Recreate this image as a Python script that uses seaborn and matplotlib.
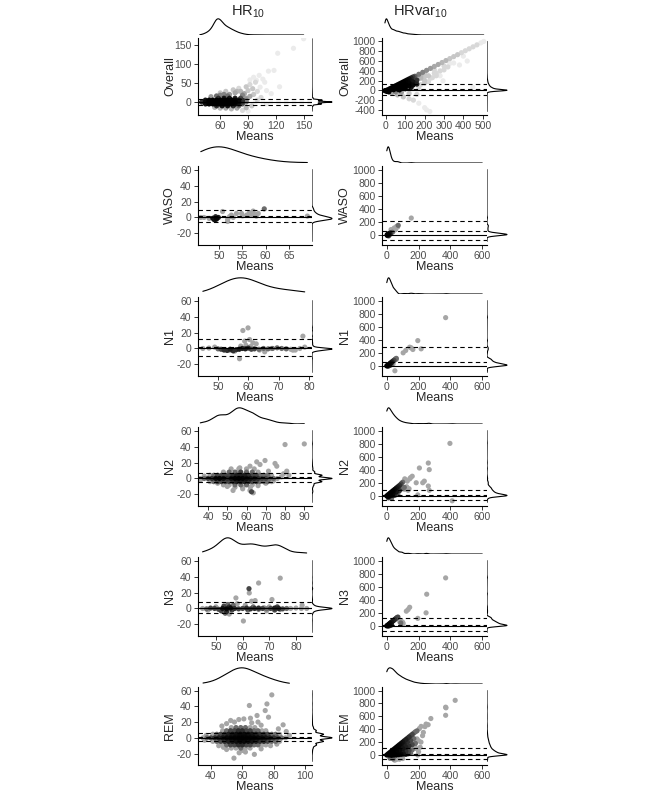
import numpy as np
import matplotlib
matplotlib.use('Agg')
import matplotlib.pyplot as plt
import seaborn as sns

sns.set_style('white')
plt.rcParams['font.family'] = ['Liberation Sans', 'DejaVu Sans']
plt.rcParams['mathtext.fontset'] = 'custom'
plt.rcParams['mathtext.rm'] = 'Liberation Sans'
plt.rcParams['axes.unicode_minus'] = False

# ---------------- data (means, differences, number of epochs per point) ----------------
hr_overall_x = [40, 44, 48, 52, 56, 60, 64, 68, 72, 76, 80, 84, 88,
                44, 48, 52, 56, 60, 64, 68, 72, 76, 80, 84,
                44, 48, 52, 56, 60, 64, 68, 72, 76, 80, 84, 88,
                56, 62, 68, 74, 80,
                58, 64, 70, 76, 82, 88,
                56, 60, 64, 68, 60, 66, 74, 78, 50, 60, 66, 78, 54,
                70, 76, 82, 86, 90, 80, 88, 92, 95, 98, 84, 92, 96, 100, 88, 94, 100, 104, 72, 84, 90,
                92, 99, 103, 108, 112, 118, 122, 139, 150, 110, 115, 106, 102, 96, 38, 110, 124]
hr_overall_y = [0, 0, 0, 0, 0, 0, 0, 0, 0, 0, 0, 0, 0,
                -5, -5, -5, -5, -5, -5, -5, -5, -5, -5, -5,
                5, 5, 5, 5, 5, 5, 5, 5, 5, 5, 5, 5,
                -10, -10, -10, -10, -10,
                10, 10, 10, 10, 10, 10,
                16, 18, 20, 16, 24, 28, 32, 28, 14, -16, -16, -16, -14,
                20, 24, 28, 22, 30, 36, 40, 46, 35, 52, 18, 15, 20, 28, -15, -10, 5, 12, -18, -22, -24,
                58, 57, 39, 52, 81, 83, 128, 141, 166, 30, 22, 60, 70, 65, -4, -5, 40]
hr_overall_n = [20, 40, 80, 200, 500, 450, 250, 180, 130, 80, 40, 20, 8,
                30, 60, 120, 200, 180, 120, 90, 70, 45, 25, 12,
                30, 60, 120, 200, 180, 130, 100, 80, 55, 35, 20, 8,
                20, 30, 30, 20, 10,
                20, 30, 30, 25, 15, 6,
                10, 8, 8, 10, 3, 3, 3, 4, 6, 4, 5, 5, 4,
                6, 5, 4, 5, 3, 2, 3, 2, 3, 2, 8, 5, 3, 2, 4, 3, 2, 2, 4, 2, 1,
                1, 1, 1, 1, 1, 1, 1, 1, 1, 1, 1, 1, 1, 1, 1, 1, 1]

hrv_overall_x = [0, 10, 20, 30, 40, 50, 60, 70, 80, 90, 100, 110, 120, 130, 140, 150,
                 20, 40, 60, 80, 100, 120, 140, 160,
                 40, 60, 80, 100, 120, 140, 160,
                 100, 130, 70, -5, 5, 15,
                 170, 190, 210, 230, 250, 270, 290, 310, 330, 350, 370, 390, 410, 430, 450, 470, 490, 505,
                 180, 200, 220, 250, 280, 300, 200, 240, 260, 295, 320, 350, 400, 449, 380, 420, 180, 220, 170,
                 200, 230, 260, 280, 300, 330, 250, 200, 160, 140, 180,
                 30, 60, 90, 120, 142, 170, 200, 210, 227, 80, 120, 160, 50]
hrv_overall_y = [0, 15, 35, 55, 75, 95, 115, 135, 155, 175, 195, 215, 235, 255, 275, 290,
                 5, 15, 30, 50, 70, 90, 110, 130,
                 40, 60, 90, 120, 150, 180, 210,
                 35, 60, 10, -5, -20, -30,
                 330, 370, 410, 450, 490, 530, 570, 610, 650, 690, 730, 770, 810, 850, 890, 930, 970, 1000,
                 250, 280, 300, 350, 400, 420, 200, 260, 300, 197, 480, 560, 700, 66, 520, 600, 120, 180, 60,
                 150, 250, 350, 300, 500, 550, 420, 330, 250, 200, 300,
                 -50, -90, -130, -170, -197, -260, -350, -395, -428, -40, -60, -80, -30]
hrv_overall_n = [2500, 800, 400, 300, 250, 200, 160, 130, 100, 80, 60, 45, 35, 25, 18, 12,
                 600, 300, 200, 150, 100, 60, 40, 25,
                 200, 150, 100, 70, 50, 30, 20,
                 60, 30, 100, 100, 200, 80,
                 9, 8, 7, 6, 5, 5, 4, 4, 3, 3, 3, 2, 2, 2, 2, 2, 1, 1,
                 4, 3, 3, 2, 2, 2, 3, 2, 2, 1, 2, 1, 1, 1, 1, 1, 2, 2, 2,
                 3, 2, 2, 1, 2, 1, 2, 3, 5, 8, 4,
                 5, 4, 3, 2, 2, 1, 1, 1, 1, 6, 3, 2, 8]

hr_waso_x = [48.6, 49.0, 49.4, 49.8, 49.2, 48.9, 46.0, 46.7, 47.8, 50.7, 51.8, 51.8, 52.6, 53.7,
             54.8, 55.9, 57.0, 57.3, 58.0, 58.4, 59.7, 69.0, 52.2, 53.0, 55.0, 56.5, 57.8]
hr_waso_y = [-1, -3, -2, 0, 1, -2.5, 0, 0, -1.2, 7.5, -2.5, -5, 3, 5,
             5, 3, 3, 8, 1.7, 5, 10.8, 1.7, 1, 0, 2, 6, 3.5]
hr_waso_n = [6, 6, 8, 5, 4, 5, 1, 1, 1, 1, 1, 1, 1, 1,
             1, 1, 1, 1, 1, 1, 2, 1, 1, 1, 1, 1, 1]

hrv_waso_x = [2, 6, 10, 14, 18, 4, 8, 20, 12, 25, 27, 41, 47, 55, 62, 72, 68, 154, 35]
hrv_waso_y = [0, 5, 10, 20, 25, -10, -5, 10, -15, 30, 81, 56, 106, 81, 131, 146, 120, 258, 40]
hrv_waso_n = [10, 10, 8, 6, 5, 5, 5, 4, 3, 3, 1, 1, 1, 1, 1, 2, 1, 1, 2]

hr_n1_x = [45, 47, 48.9, 50, 51, 52, 53, 54, 55, 56, 57, 58, 59, 60, 61, 62, 63.5, 65, 66.5, 68,
           69.5, 71, 72.5, 74, 75.5, 77, 78.6,
           58.2, 59.9, 58.8, 60.4, 61.5, 62.6, 57.1, 65.4, 74.7, 78, 53.8, 55.5, 63.7, 67.6, 59.2, 57.5, 60.8]
hr_n1_y = [0, 0.5, 1.7, -0.5, -1, -2, -2.5, -1, -3, -1.5, -1, 0, -0.5, 0.5, -1, -0.5, -1, 0, -0.5, 0,
           0.8, 0, -0.5, -1, -2, 0, 1.7,
           22.5, 25.8, 9.2, 11.2, 7.1, 5.8, -12.9, -4.2, -2.1, 15.4, -2.5, -3.3, -2, 0, 4, 3, 2.5]
hr_n1_n = [1, 1, 1, 2, 3, 4, 4, 5, 4, 4, 5, 5, 5, 4, 3, 3, 2, 2, 2, 2,
           2, 2, 2, 1, 1, 1, 1,
           1, 1, 1, 1, 1, 1, 1, 1, 1, 1, 1, 1, 1, 1, 1, 1, 1]

hrv_n1_x = [0, 5, 10, 15, 20, 25, 30, 35, 40, 45, 50, 55, 60, 8, 15, 22, 30, 40,
            51, 103, 119, 144, 154, 164, 195, 216, 370, 56, 60]
hrv_n1_y = [0, 8, 15, 25, 35, 45, 55, 65, 75, 85, 95, 105, 115, -5, 5, 12, 20, 30,
            -75, 200, 236, 286, 276, 251, 387, 261, 739, 95, 100]
hrv_n1_n = [12, 10, 9, 8, 7, 6, 5, 4, 3, 3, 2, 2, 2, 4, 4, 3, 2, 1,
            1, 1, 1, 1, 1, 1, 1, 1, 1, 1, 1]

hr_n2_x = [36, 38, 40, 42, 44, 46, 48, 50, 52, 54, 56, 58, 60, 62, 64, 66, 68, 70, 72, 74, 76,
           41, 43, 45, 47, 49, 51, 53, 55, 57, 59, 61, 63, 65, 67, 69, 71, 73,
           41, 43, 45, 47, 49, 51, 53, 55, 57, 59, 61, 63, 65, 67, 69, 71, 73,
           48, 51, 54, 57, 60, 63, 66,
           48, 51, 54, 57, 60, 63,
           52, 56, 60, 64, 54, 58, 62,
           80, 90, 69.6, 67, 65.3, 61.8, 56.5, 74.8, 75.7, 80.9, 79.2, 71.4, 53, 61.8, 62.6, 63.5,
           54.8, 45, 50, 58, 66, 70, 74, 78, 82, 38, 36]
hr_n2_y = [0] * 21 + [-4] * 17 + [4] * 17 + [8] * 7 + [-8] * 6 + \
          [12, 12, 12, 12, -11, -11, -11,
           42.5, 43.3, 22.5, 17.5, 20.8, 15.4, 13.3, 18.8, 15.4, 9.2, 5.8, 9.2, -15, -15, -16.7, -18,
           7, -6, -10, -13, -9, -6, -3, 2, 4, 3, -2]
hr_n2_n = [1, 2, 3, 4, 7, 9, 6, 4, 6, 10, 12, 9, 7, 6, 5, 4, 3, 3, 2, 2, 1,
           1, 2, 3, 3, 3, 3, 4, 5, 5, 5, 4, 3, 3, 2, 2, 2, 1,
           1, 2, 3, 3, 3, 3, 4, 5, 5, 5, 4, 3, 3, 2, 2, 2, 1,
           1, 2, 2, 3, 2, 2, 1,
           1, 1, 2, 2, 2, 1,
           1, 1, 1, 1, 1, 1, 1,
           1, 1, 1, 1, 1, 1, 1, 1, 1, 1, 1, 1, 1, 1, 3, 1,
           1, 1, 1, 1, 1, 1, 1, 1, 1, 1, 1]

hrv_n2_x = [0, 10, 20, 30, 40, 50, 60, 70, 80, 90, 20, 40, 60, 80, 10, 20, 30, 40, 50, 60, 70, 10, 30,
            100, 92, 100, 113, 120, 134, 140, 113, 129, 144, 150, 160, 185, 205, 226, 236, 261, 267,
            261, 267, 397, 411, 195, 110, 125]
hrv_n2_y = [0, 20, 40, 60, 80, 100, 120, 140, 160, 185, 20, 40, 60, 80, -10, 0, 5, 10, 10, 20, 30, -30, -40,
            210, 115, 110, 100, 120, 85, 110, 261, 226, 261, 280, 301, 201, 427, 201, 226, 503, 402,
            151, 85, 804, -75, 15, 130, 140]
hrv_n2_n = [40, 20, 15, 12, 10, 8, 6, 5, 4, 3, 10, 8, 6, 4, 10, 8, 6, 5, 4, 3, 2, 3, 2,
            2, 2, 2, 1, 1, 1, 1, 1, 1, 1, 1, 1, 1, 1, 1, 1, 1, 1,
            1, 1, 1, 1, 1, 2, 1]

hr_n3_x = [45, 46.5, 48, 49.5, 51, 52.5, 54, 55.5, 57, 58.5, 60, 61.5, 63, 64.5, 66, 67.5, 69, 70.5,
           72, 73.5, 75, 76.5, 78, 80, 82, 84,
           52, 53, 54, 55, 56, 53.5, 54.5, 55, 56.5, 72, 73, 74, 62, 64, 66, 68,
           74.1, 66, 62.4, 62.5, 57.5, 63.4, 64.7, 71, 60.3, 82.3, 70, 58, 50, 47, 61, 69]
hr_n3_y = [0, -0.5, 0.5, 0, -1, 0, -0.5, 0.5, 0, -0.5, 0, 0.5, -0.5, 0, 0.5, 0, -0.5, 0,
           0.5, 0, -0.5, 0, 0, 0.5, 0, 0,
           -3, 3, -4, 2, -2, -6, 5, -7, 4, -2, 2, -1, -2, 2, -1, 1,
           38, 31.9, 24.8, 19.4, 13.2, 9.1, 9.9, 11.2, -15.7, 4.1, 2, 6, 2, -2, 4, -3]
hr_n3_n = [1, 2, 3, 3, 3, 6, 8, 7, 4, 3, 3, 4, 4, 4, 4, 3, 2, 3,
           5, 5, 3, 2, 1, 1, 1, 1,
           3, 3, 4, 4, 3, 2, 2, 1, 2, 3, 3, 2, 2, 2, 2, 1,
           1, 1, 3, 1, 1, 1, 1, 1, 1, 1, 1, 1, 1, 1, 1, 1]

hrv_n3_x = [0, 5, 10, 15, 20, 25, 30, 35, 40, 45, 50, 55, 60, 65, 70, 10, 20, 30,
            82, 88, 92, 95, 100, 103, 85, 123, 134, 144, 195, 247, 251, 370]
hrv_n3_y = [0, 8, 18, 28, 38, 48, 58, 68, 78, 88, 98, 108, 118, 128, 135, -3, 5, 15,
            60, 45, 70, 40, 55, 35, 75, 225, 250, 285, 115, 200, 485, 735]
hrv_n3_n = [20, 10, 10, 8, 8, 6, 6, 5, 5, 4, 4, 3, 3, 3, 3, 6, 5, 4,
            1, 2, 1, 1, 1, 1, 1, 1, 1, 1, 1, 1, 1, 1]

hr_rem_x = [35, 37.5, 40, 42.5, 45, 47.5, 50, 52.5, 55, 57.5, 60, 62.5, 65, 67.5, 70, 72.5, 75, 77.5,
            80, 82.5, 85, 87.5,
            41.25, 43.75, 46.25, 48.75, 51.25, 53.75, 56.25, 58.75, 61.25, 63.75, 66.25, 68.75, 71.25,
            73.75, 76.25, 78.75, 81.25, 83.75,
            41.25, 43.75, 46.25, 48.75, 51.25, 53.75, 56.25, 58.75, 61.25, 63.75, 66.25, 68.75, 71.25,
            73.75, 76.25, 78.75, 81.25, 83.75,
            47.5, 50, 52.5, 55, 57.5, 60, 62.5, 65, 67.5, 70, 72.5, 75,
            47.5, 50, 52.5, 55, 57.5, 60, 62.5, 65, 67.5, 70, 72.5, 75,
            53, 56, 59, 62, 65, 68, 53, 56, 59, 62, 65,
            78.8, 64.5, 75.7, 74.6, 69.4, 65.2, 61, 57.8, 52.6, 76.7, 86, 83, 54.7, 67.7, 50, 60,
            88, 90, 47, 50, 55, 70, 72, 66, 58, 62, 45, 48, 72, 78, 82, 36, 37]
hr_rem_y = [0] * 22 + [-4.5] * 18 + [4.5] * 18 + [-9] * 12 + [9] * 12 + \
           [13, 13, 13, 13, 13, 13, -13, -13, -13, -13, -13,
            54.5, 41, 43, 34.6, 28.3, 24.9, 24, 23.2, 22, 26.2, 16.5, 11.4, -25.8, -21, -14.8, -16,
            8, 3, 15, 18, 20, 20, 16, 19, -19, -18, -10, -12, -14, -10, -8, -3, 3]
hr_rem_n = [1, 2, 3, 4, 5, 6, 8, 9, 10, 11, 12, 11, 10, 9, 8, 7, 6, 5, 4, 3, 2, 1,
            1, 2, 3, 4, 5, 6, 7, 8, 8, 7, 6, 5, 4, 4, 3, 2, 2, 1,
            1, 2, 3, 4, 5, 6, 7, 8, 8, 7, 6, 5, 4, 4, 3, 2, 2, 1,
            1, 2, 3, 3, 4, 4, 3, 3, 2, 2, 1, 1,
            1, 2, 3, 3, 4, 4, 3, 3, 2, 2, 1, 1,
            1, 2, 2, 2, 1, 1, 1, 1, 2, 1, 1,
            1, 1, 1, 1, 1, 1, 1, 1, 1, 1, 1, 1, 1, 1, 1, 1,
            1, 1, 1, 1, 1, 1, 1, 1, 1, 1, 1, 1, 1, 1, 1, 1, 1]

hrv_rem_x = [10, 20, 30, 40, 50, 60, 70, 80, 90, 100, 110, 120, 130, 140, 150, 160, 170, 180, 190,
             30, 50, 70, 90, 110, 130, 150, 170,
             20, 40, 60, 80, 100, 120, 140, 160, 180,
             40, 60, 80, 100, 120, 140, 160,
             0, 15, 30, 45, 60, 75, 90, 105, 120, 135, 150,
             20, 40, 60, 80, 100, 50,
             160, 175, 190, 200, 185, 200, 195, 210, 215, 225, 230, 216, 247, 260, 277, 370, 372, 370,
             430, 205, 240]
hrv_rem_y = [20, 40, 60, 80, 100, 120, 140, 160, 180, 200, 220, 240, 260, 280, 300, 320, 340, 360, 375,
             45, 75, 105, 135, 165, 195, 225, 255,
             20, 40, 60, 80, 100, 120, 140, 160, 180,
             20, 30, 40, 50, 60, 70, 80,
             0, 0, -5, 0, 0, 5, 10, 15, 10, 20, 30,
             -50, -60, -70, -65, -55, -80,
             200, 150, 250, 220, 100, 50, 0, 120, 200, 300, 350, 444, 480, 470, 566, 742, 732, 616,
             848, 410, 440]
hrv_rem_n = [20, 18, 16, 14, 12, 10, 9, 8, 7, 6, 5, 5, 4, 4, 3, 3, 2, 2, 2,
             12, 10, 8, 6, 5, 4, 3, 2,
             15, 12, 10, 8, 6, 5, 4, 3, 2,
             10, 8, 6, 5, 4, 3, 2,
             60, 30, 20, 15, 12, 10, 8, 6, 4, 3, 2,
             2, 2, 1, 1, 1, 1,
             1, 1, 1, 1, 1, 1, 1, 1, 1, 1, 1, 1, 1, 1, 1, 1, 1, 1,
             1, 1, 1]

# bias, upper and lower limits of agreement
hr_loa = [(1, 9, -7), (1.8, 9.2, -5.6), (1.25, 11.5, -9), (1.25, 6.5, -4), (1, 7.8, -5.8), (1, 6.3, -4.3)]
hrv_loa = [(20, 130, -90), (65, 205, -75), (58, 282, -166), (17, 90, -56), (20, 120, -80), (23, 111, -65)]

stages = ['Overall', 'WASO', 'N1', 'N2', 'N3', 'REM']

# ---------------- layout ----------------
W, H = 666, 799
fig = plt.figure(figsize=(W / 100, H / 100), dpi=100)


def box(x0, y0, x1, y1):
    return [x0 / W, 1 - y1 / H, (x1 - x0) / W, (y1 - y0) / H]


col_x = [(198, 312), (382, 487)]
row_y = [(38, 115), (166, 245), (297, 376), (427, 506), (557, 636), (687, 765)]
ylab_x = [170, 345]

hr_set = [
    (hr_overall_x, hr_overall_y, hr_overall_n, 0.08, (36, 159), (-34, 168), [60, 90, 120, 150], [0, 50, 100, 150], None, None, (0.5, 0.35)),
    (hr_waso_x, hr_waso_y, hr_waso_n, 0.35, (45.4, 70), (-34.5, 64.5), [50, 55, 60, 65], [-20, 0, 20, 40, 60], None, (-30, 60), (1.6, 0.8)),
    (hr_n1_x, hr_n1_y, hr_n1_n, 0.35, (43.4, 81), (-34.5, 64.5), [50, 60, 70, 80], [-20, 0, 20, 40, 60], None, (-30, 60), (1.2, 0.4)),
    (hr_n2_x, hr_n2_y, hr_n2_n, 0.35, (34.8, 94), (-34.5, 64.5), [40, 50, 60, 70, 80, 90], [-20, 0, 20, 40, 60], None, (-30, 60), (0.5, 0.4)),
    (hr_n3_x, hr_n3_y, hr_n3_n, 0.35, (43.3, 86), (-34.5, 64.5), [50, 60, 70, 80], [-20, 0, 20, 40, 60], None, (-30, 60), (0.6, 0.4)),
    (hr_rem_x, hr_rem_y, hr_rem_n, 0.35, (31.8, 104.4), (-34.5, 64.5), [40, 60, 80, 100], [-20, 0, 20, 40, 60], None, (-30, 60), (1.0, 0.4)),
]
hrv_ticks = [0, 200, 400, 600, 800, 1000]
hrv_set = [
    (hrv_overall_x, hrv_overall_y, hrv_overall_n, 0.08, (-20, 522), (-500, 1070), [0, 100, 200, 300, 400, 500], [-400, -200, 0, 200, 400, 600, 800, 1000], None, None, (0.25, 0.25)),
    (hrv_waso_x, hrv_waso_y, hrv_waso_n, 0.35, (-30, 630), (-155, 1055), [0, 200, 400, 600], hrv_ticks, (0, 600), (-100, 1000), (0.7, 0.45)),
    (hrv_n1_x, hrv_n1_y, hrv_n1_n, 0.35, (-30, 630), (-155, 1055), [0, 200, 400, 600], hrv_ticks, (0, 600), (-100, 1000), (0.3, 0.25)),
    (hrv_n2_x, hrv_n2_y, hrv_n2_n, 0.35, (-30, 630), (-155, 1055), [0, 200, 400, 600], hrv_ticks, (0, 600), (-100, 1000), (0.3, 0.25)),
    (hrv_n3_x, hrv_n3_y, hrv_n3_n, 0.35, (-30, 630), (-155, 1055), [0, 200, 400, 600], hrv_ticks, (0, 600), (-100, 1000), (0.3, 0.25)),
    (hrv_rem_x, hrv_rem_y, hrv_rem_n, 0.35, (-30, 630), (-155, 1055), [0, 200, 400, 600], hrv_ticks, (0, 600), (-100, 1000), (0.3, 0.25)),
]


def marginal(ax, vals, w, lim, clip, bw, vertical):
    kw = dict(weights=w, ax=ax, color='black', linewidth=0.8, bw_adjust=bw, gridsize=800)
    if clip is None:
        kw['cut'] = 0
    else:
        kw['cut'] = 1000
        kw['clip'] = clip
    if vertical:
        sns.kdeplot(y=vals, **kw)
        peak = ax.lines[-1].get_xdata().max()
        ax.set_xlim(0, peak * 1.05)
        ax.set_ylim(lim)
    else:
        sns.kdeplot(x=vals, **kw)
        peak = ax.lines[-1].get_ydata().max()
        ax.set_ylim(0, peak * 1.05)
        ax.set_xlim(lim)
    ax.axis('off')


def draw(col, row, spec, loa):
    x, y, n, base, xlim, ylim, xt, yt, xclip, yclip, bw = spec
    x0, x1 = col_x[col]
    y0, y1 = row_y[row]
    ax = fig.add_axes(box(x0, y0, x1, y1))
    # each point stands for n overlapping epochs: darkness of n stacked translucent dots
    dark = 1 - (1 - base) ** np.asarray(n, dtype=float)
    order = np.argsort(dark, kind='stable')
    xs = np.asarray(x, dtype=float)[order]
    ys = np.asarray(y, dtype=float)[order]
    grey = 1 - dark[order]
    sns.scatterplot(x=xs, y=ys, ax=ax, color='black', s=14, linewidth=0)
    pts = ax.collections[-1]
    pts.set_facecolor(np.column_stack([grey, grey, grey, np.ones_like(grey)]))
    pts.set_edgecolor('none')
    bias, up, lo = loa
    ax.axhline(0, color='black', lw=0.8)
    for v in (bias, up, lo):
        ax.axhline(v, color='black', lw=0.8, ls=(0, (4, 3)))
    ax.set_xlim(xlim)
    ax.set_ylim(ylim)
    ax.set_xticks(xt)
    ax.set_yticks(yt)
    ax.set_xlabel('')
    ax.set_ylabel('')
    sns.despine(ax=ax)
    for s in ('left', 'bottom'):
        ax.spines[s].set_linewidth(0.8)
        ax.spines[s].set_color('black')
    ax.tick_params(length=3, width=0.7, color='#333333', labelsize=7.5, labelcolor='#4D4D4D', pad=1.5,
                   left=True, bottom=True)

    axt = fig.add_axes(box(x0, y0 - 20, x1, y0 - 3))
    marginal(axt, x, n, xlim, xclip, bw[0], False)
    axr = fig.add_axes(box(x1, y0, x1 + 21, y1))
    marginal(axr, y, n, ylim, yclip, bw[1], True)

    fig.text((x0 + x1) / 2 / W, 1 - (y1 + 22) / H, 'Means', ha='center', va='center', fontsize=9)
    fig.text(ylab_x[col] / W, 1 - (y0 + y1) / 2 / H, stages[row], ha='center', va='center',
             rotation=90, fontsize=9)


for r in range(6):
    draw(0, r, hr_set[r], hr_loa[r])
    draw(1, r, hrv_set[r], hrv_loa[r])

fig.text(248 / W, 1 - 12 / H, r'HR$_{10}$', ha='center', va='center', fontsize=10.5)
fig.text(420 / W, 1 - 12 / H, r'HRvar$_{10}$', ha='center', va='center', fontsize=10.5)

fig.savefig('out.png', dpi=100)
